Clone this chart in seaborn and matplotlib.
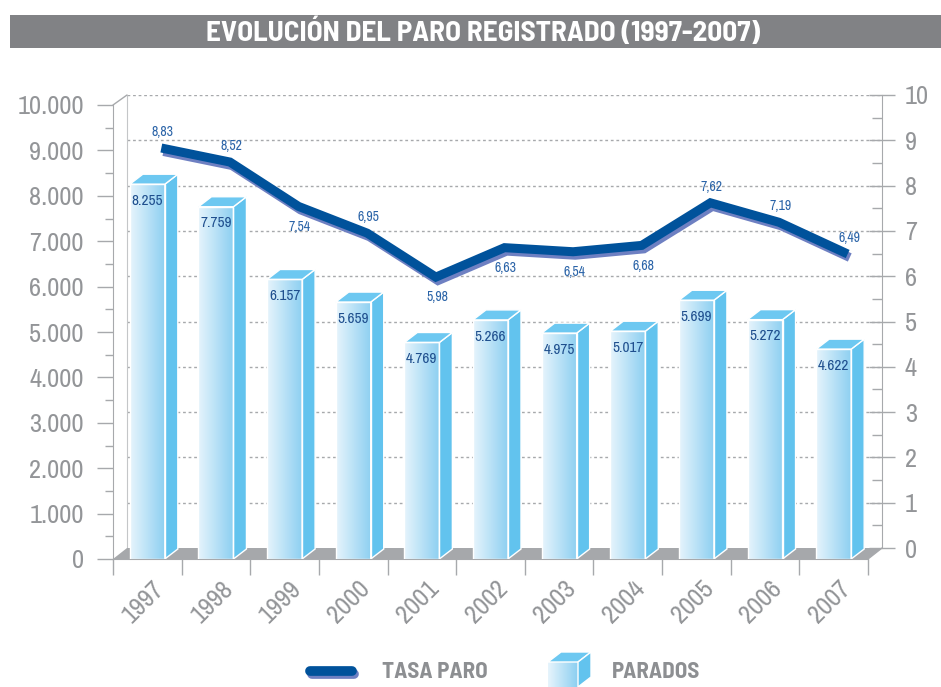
import matplotlib
matplotlib.use('Agg')
import matplotlib.pyplot as plt
import matplotlib.patheffects as pe
import matplotlib.transforms as mtransforms
from matplotlib.patches import Polygon, Rectangle
from matplotlib.lines import Line2D
from matplotlib.colors import LinearSegmentedColormap
import seaborn as sns
import numpy as np
import pandas as pd

# data
years = ['1997', '1998', '1999', '2000', '2001', '2002', '2003', '2004', '2005', '2006', '2007']
parados = [8255, 7759, 6157, 5659, 4769, 5266, 4975, 5017, 5699, 5272, 4622]
tasa_paro = [8.83, 8.52, 7.54, 6.95, 5.98, 6.63, 6.54, 6.68, 7.62, 7.19, 6.49]
tasa_label_above = [True, True, False, True, False, False, False, False, True, True, True]

sns.set_style('white')
plt.rcParams['font.family'] = ['Archivo Narrow', 'DejaVu Sans']
BOLD = ['Barlow Semi Condensed', 'DejaVu Sans']

GRAY_TXT = '#939598'
GRAY_LINE = '#a7a9ac'
W, H = 941, 687


def frac(x0, y0, x1, y1):
    return [x0 / W, 1 - y1 / H, (x1 - x0) / W, (y1 - y0) / H]


fig = plt.figure(figsize=(W / 100, H / 100), dpi=100)
ax_back = fig.add_axes(frac(127, 95, 882, 548), zorder=0)
ax = fig.add_axes(frac(113, 105, 868, 559), zorder=1)
ax_line = fig.add_axes(frac(127, 95, 882, 548), zorder=2)
ax_deco = fig.add_axes([0, 0, 1, 1], zorder=3)

n = len(years)

# back wall: grid + right axis
ax_back.set_xlim(-0.5, n - 0.5)
ax_back.set_ylim(0, 10)
for v in range(1, 11):
    ax_back.axhline(v, color=GRAY_LINE, lw=1, ls=(0, (2, 2)), zorder=0)
for s in ['top', 'bottom']:
    ax_back.spines[s].set_visible(False)
ax_back.spines['left'].set_color('#c4c6c8')
ax_back.spines['right'].set_color(GRAY_LINE)
ax_back.yaxis.tick_right()
ax_back.set_yticks(range(11))
ax_back.set_yticks(np.arange(0.5, 10, 1), minor=True)
ax_back.tick_params(axis='y', which='major', direction='inout', length=19, width=1,
                    color=GRAY_LINE, labelsize=19, labelcolor=GRAY_TXT, pad=7,
                    right=True, left=False)
ax_back.tick_params(axis='y', which='minor', direction='in', length=7, width=1,
                    color=GRAY_LINE, right=True, left=False)
ax_back.set_xticks([])

# front: bars
df = pd.DataFrame({'year': years, 'parados': parados})
sns.barplot(data=df, x='year', y='parados', ax=ax, color='#8dd0f1', width=0.51,
            saturation=1, zorder=2)
ax.patch.set_alpha(0)
ax.set_xlim(-0.5, n - 0.5)
ax.set_ylim(0, 10000)

pos = ax.get_position()
ppx = W * pos.width / n          # pixels per category
ppy = H * pos.height / 10000     # pixels per unit
bdx, bdy = 13 / ppx, 10 / ppy    # bar depth
fdx, fdy = 14 / ppx, 11 / ppy    # floor depth

floor = Polygon([(-0.5, 0), (n - 0.5, 0), (n - 0.5 + fdx, fdy), (-0.5 + fdx, fdy)],
                closed=True, facecolor='#a6a8ab', edgecolor='none', zorder=1, clip_on=False)
ax.add_patch(floor)

cmap = LinearSegmentedColormap.from_list('bar', ['#e6f4fc', '#8ccff1'])
grad = np.linspace(0, 1, 64).reshape(1, -1)
for bar in list(ax.patches):
    if bar is floor:
        continue
    x0 = bar.get_x()
    x1 = x0 + bar.get_width()
    h = bar.get_height()
    ax.imshow(grad, extent=(x0, x1, 0, h), cmap=cmap, aspect='auto', zorder=2)
    bar.set_facecolor('none')
    bar.set_edgecolor('white')
    bar.set_linewidth(1)
    bar.set_zorder(3)
    side = Polygon([(x1, 0), (x1, h), (x1 + bdx, h + bdy), (x1 + bdx, bdy)], closed=True,
                   facecolor='#62c3ee', edgecolor='white', lw=1, zorder=2.5, clip_on=False)
    top = Polygon([(x0, h), (x1, h), (x1 + bdx, h + bdy), (x0 + bdx, h + bdy)], closed=True,
                  facecolor='#6dc8f1', edgecolor='white', lw=1, zorder=2.5, clip_on=False)
    ax.add_patch(side)
    ax.add_patch(top)
ax.set_xlim(-0.5, n - 0.5)
ax.set_ylim(0, 10000)

for i, v in enumerate(parados):
    ax.annotate(f'{v:,}'.replace(',', '.'), (i, v), xytext=(0, -12), textcoords='offset points',
                ha='center', va='center', fontsize=11, color='#1f4f8e', zorder=4)

for s in ['top', 'right']:
    ax.spines[s].set_visible(False)
ax.spines['left'].set_color(GRAY_LINE)
ax.spines['bottom'].set_color(GRAY_LINE)
ax.set_yticks(range(0, 10001, 1000))
ax.set_yticklabels([f'{v:,}'.replace(',', '.') for v in range(0, 10001, 1000)])
ax.set_yticks(range(500, 10000, 1000), minor=True)
ax.tick_params(axis='y', which='major', direction='out', length=11.5, width=1,
               color=GRAY_LINE, labelsize=19, labelcolor=GRAY_TXT, pad=9.5, left=True)
ax.tick_params(axis='y', which='minor', direction='out', length=6, width=1,
               color=GRAY_LINE, left=True)
ax.set_xticks(np.arange(-0.5, n, 1))
ax.set_xticklabels([])
ax.tick_params(axis='x', which='major', direction='out', length=11.5, width=1,
               color=GRAY_LINE, bottom=True)
ax.set_xlabel('')
ax.set_ylabel('')
lbl_tr = mtransforms.blended_transform_factory(ax.transData, ax.transAxes) + \
    mtransforms.ScaledTranslation(-4 / 100, -43 / 100, fig.dpi_scale_trans)
for i, y in enumerate(years):
    ax.text(i, 0, y, transform=lbl_tr, rotation=45, ha='center', va='center',
            rotation_mode='anchor', fontsize=19, color=GRAY_TXT)

# line: tasa paro
sns.lineplot(x=np.arange(n), y=tasa_paro, ax=ax_line, color='#00529b', lw=6.5,
             solid_joinstyle='miter', solid_capstyle='butt',
             path_effects=[pe.SimpleLineShadow(offset=(1.5, -2.5), shadow_color='#6e80c2', alpha=1),
                           pe.Normal()])
ax_line.set_xlim(-0.5, n - 0.5)
ax_line.set_ylim(0, 10)
ax_line.axis('off')
for i, (v, above) in enumerate(zip(tasa_paro, tasa_label_above)):
    ax_line.annotate(f'{v:.2f}'.replace('.', ','), (i, v), xytext=(1, 11.5 if above else -14.5),
                     textcoords='offset points', ha='center', va='center', fontsize=10,
                     color='#2b64a8')

# 3D connecting edges
ident = mtransforms.IdentityTransform()
p_front = ax.transAxes.transform([(0, 1), (1, 0)])
p_back = ax_back.transAxes.transform([(0, 1), (1, 0)])
for a, b in zip(p_front, p_back):
    fig.add_artist(Line2D([a[0], b[0]], [a[1], b[1]], color=GRAY_LINE, lw=1, transform=ident))

# decorations: title banner and legend (pixel coordinates)
ax_deco.set_xlim(0, W)
ax_deco.set_ylim(H, 0)
ax_deco.axis('off')
ax_deco.patch.set_alpha(0)
ax_deco.add_patch(Rectangle((10, 15), W - 10, 33, facecolor='#818285', edgecolor='none'))
ax_deco.text(483, 32, 'EVOLUCIÓN DEL PARO REGISTRADO (1997-2007)', ha='center', va='center',
             color='white', fontsize=21, fontweight='bold', family=BOLD)

ax_deco.plot([310, 352], [671, 671], color='#00529b', lw=7, solid_capstyle='round',
             path_effects=[pe.SimpleLineShadow(offset=(1.5, -2.5), shadow_color='#6e80c2', alpha=1),
                           pe.Normal()])
ax_deco.text(382, 672, 'TASA PARO', ha='left', va='center', color='#8d8f92',
             fontsize=16.5, fontweight='bold', family=BOLD)
ax_deco.imshow(grad, extent=(548, 578, 687, 662), cmap=cmap, aspect='auto')
ax_deco.add_patch(Polygon([(548, 662), (578, 662), (591, 652), (561, 652)], closed=True,
                          facecolor='#6dc8f1', edgecolor='white', lw=1))
ax_deco.add_patch(Polygon([(578, 662), (591, 652), (591, 677), (578, 687)], closed=True,
                          facecolor='#62c3ee', edgecolor='white', lw=1))
ax_deco.text(612, 672, 'PARADOS', ha='left', va='center', color='#8d8f92',
             fontsize=16.5, fontweight='bold', family=BOLD)
ax_deco.set_xlim(0, W)
ax_deco.set_ylim(H, 0)

fig.savefig('out.png', dpi=100)
